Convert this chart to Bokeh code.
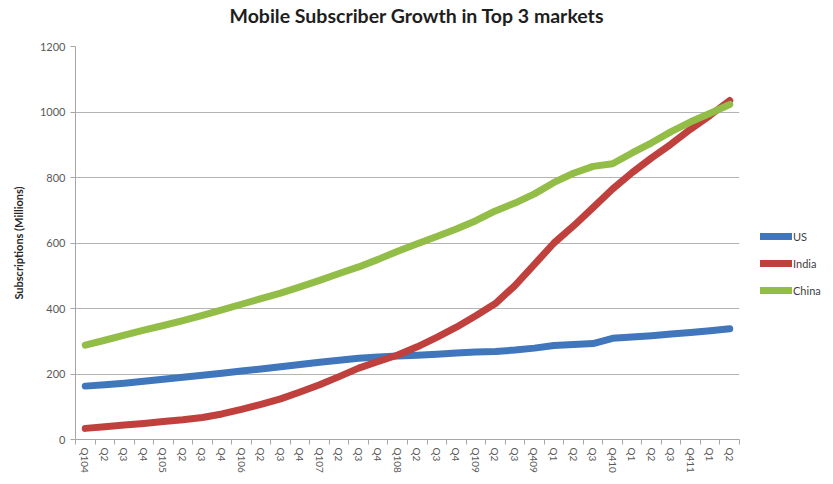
from bokeh.plotting import figure
from bokeh.models import Range1d, FixedTicker, Legend, LegendItem, Title
from bokeh.embed import file_html
from bokeh.resources import INLINE

quarters = ["Q104", "Q2", "Q3", "Q4", "Q105", "Q2", "Q3", "Q4", "Q106", "Q2", "Q3", "Q4",
            "Q107", "Q2", "Q3", "Q4", "Q108", "Q2", "Q3", "Q4", "Q109", "Q2", "Q3", "Q409",
            "Q1", "Q2", "Q3", "Q410", "Q1", "Q2", "Q3", "Q411", "Q1", "Q2"]

us = [163, 167, 172, 178, 184, 190, 196, 202, 209, 215, 222, 229, 236, 242, 248, 252, 255,
      257, 260, 264, 267, 269, 273, 279, 287, 290, 293, 309, 313, 317, 322, 327, 332, 338]

india = [34, 39, 44, 49, 55, 60, 67, 78, 92, 107, 124, 145, 167, 192, 218, 238, 258,
         283, 312, 343, 378, 415, 470, 535, 600, 652, 708, 765, 815, 860, 902, 948, 990, 1035]

china = [288, 303, 319, 334, 348, 363, 379, 396, 413, 430, 447, 466, 486, 507, 527, 550, 575,
         598, 620, 643, 668, 698, 722, 750, 785, 813, 834, 842, 875, 906, 940, 970, 996, 1023]

title_text = "Mobile Subscriber Growth in Top 3 markets"
series_names = ["US", "India", "China"]
series_colors = ["#4076BC", "#C0403D", "#92BD47"]
y_ticks = [0, 200, 400, 600, 800, 1000, 1200]

x = list(range(len(quarters)))

p = figure(title=None, frame_width=664, frame_height=393, output_backend="svg", toolbar_location=None,
           x_range=Range1d(-0.5, len(quarters) - 0.5), y_range=Range1d(0, 1200),
           min_border_left=75, min_border_right=83, min_border_top=46, min_border_bottom=20)

# spacer (nearest the frame) then the real title above it
spacer = Title(text=" ", text_font_size="1px", standoff=17)
main_title = Title(text=title_text, align="left", offset=154, standoff=0,
                   text_font="Lato", text_font_style="bold", text_font_size="19.5px",
                   text_color="#1e1e1e")
p.add_layout(spacer, "above")
p.add_layout(main_title, "above")

p.outline_line_color = None
p.xgrid.grid_line_color = None
p.ygrid.grid_line_color = "#b4b4b4"
p.ygrid.grid_line_width = 1

# y axis
p.yaxis.ticker = FixedTicker(ticks=y_ticks)
p.yaxis.axis_label = "Subscriptions (Millions)"
p.yaxis.axis_label_text_font = "Lato"
p.yaxis.axis_label_text_font_style = "bold"
p.yaxis.axis_label_text_font_size = "11px"
p.yaxis.axis_label_text_color = "#262626"
p.yaxis.axis_label_standoff = 12
p.yaxis.major_label_text_font = "Lato"
p.yaxis.major_label_text_font_size = "11px"
p.yaxis.major_label_text_color = "#595959"
p.yaxis.axis_line_color = "#a6a6a6"
p.yaxis.major_tick_line_color = "#a6a6a6"
p.yaxis.major_tick_out = 5
p.yaxis.major_tick_in = 0
p.yaxis.minor_tick_line_color = None

# x axis
p.xaxis.ticker = FixedTicker(ticks=x, minor_ticks=[i - 0.5 for i in range(len(quarters) + 1)])
p.xaxis.major_label_overrides = {i: q for i, q in enumerate(quarters)}
p.xaxis.major_label_orientation = "vertical"
p.xaxis.major_label_text_font = "Lato"
p.xaxis.major_label_text_font_size = "10px"
p.xaxis.major_label_text_color = "#595959"
p.xaxis.major_label_standoff = 3
p.xaxis.axis_line_color = "#a6a6a6"
p.xaxis.major_tick_out = 0
p.xaxis.major_tick_in = 0
p.xaxis.minor_tick_line_color = "#a6a6a6"
p.xaxis.minor_tick_out = 5
p.xaxis.minor_tick_in = 0

renderers = []
for vals, col in zip([us, india, china], series_colors):
    r = p.line(x, vals, line_width=7, line_color=col, line_cap="round", line_join="round")
    renderers.append(r)

legend = Legend(items=[LegendItem(label=n, renderers=[r]) for n, r in zip(series_names, renderers)],
                location=(21, 139))
legend.background_fill_alpha = 0
legend.border_line_color = None
legend.label_text_font = "Lato"
legend.label_text_font_size = "11px"
legend.label_text_color = "#404040"
legend.glyph_width = 32
legend.glyph_height = 20
legend.label_height = 20
legend.spacing = 7
legend.label_standoff = 1
legend.padding = 0
legend.margin = 0
p.add_layout(legend, "right")

open("out.html", "w").write(file_html(p, INLINE))
